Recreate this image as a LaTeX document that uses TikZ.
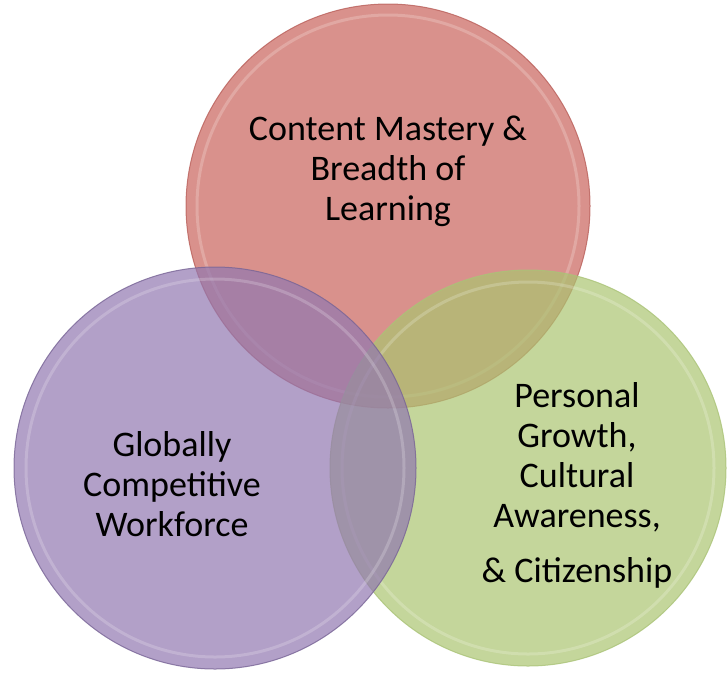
\documentclass[tikz,border=0pt]{standalone}
\usepackage{fontspec}
\setmainfont{Carlito}
\begin{document}
\begin{tikzpicture}[x=1pt,y=-1pt]
\useasboundingbox (0,0) rectangle (727,673);
\definecolor{redc}{RGB}{201,99,91}
\definecolor{purc}{RGB}{145,119,176}
\definecolor{grnc}{RGB}{171,196,112}
\definecolor{rede}{RGB}{185,95,90}
\definecolor{pure}{RGB}{120,100,150}
\definecolor{grne}{RGB}{170,195,120}
\tikzset{
  venn/.style={circle, inner sep=0pt, fill opacity=0.7, draw opacity=0.8, line width=1pt},
  gloss/.style={white, line width=3pt, opacity=0.2},
  lbl/.style={align=center, font=\fontsize{36}{40}\selectfont, text=black}
}
\node[venn, fill=redc, draw=rede, minimum size=404] (red) at (388,206) {};
\draw[gloss] (red.center) circle[radius=191];
\node[venn, fill=grnc, draw=grne, minimum size=396] (grn) at (528,468) {};
\draw[gloss] (grn.center) circle[radius=186];
\node[venn, fill=purc, draw=pure, minimum size=402] (pur) at (215,468) {};
\draw[gloss] (pur.center) circle[radius=189];

\node[lbl] (tred) at (388,171) {Content Mastery \&\\Breadth of\\Learning};
\node[lbl] (tpur) at (172,484) {Globally\\Competitive\\Workforce};
\node[lbl] (tgrn) at (577,457) {Personal\\Growth,\\Cultural\\Awareness,};
\node[lbl] (tgrn2) at (577,573) {\& Citizenship};
\end{tikzpicture}
\end{document}
